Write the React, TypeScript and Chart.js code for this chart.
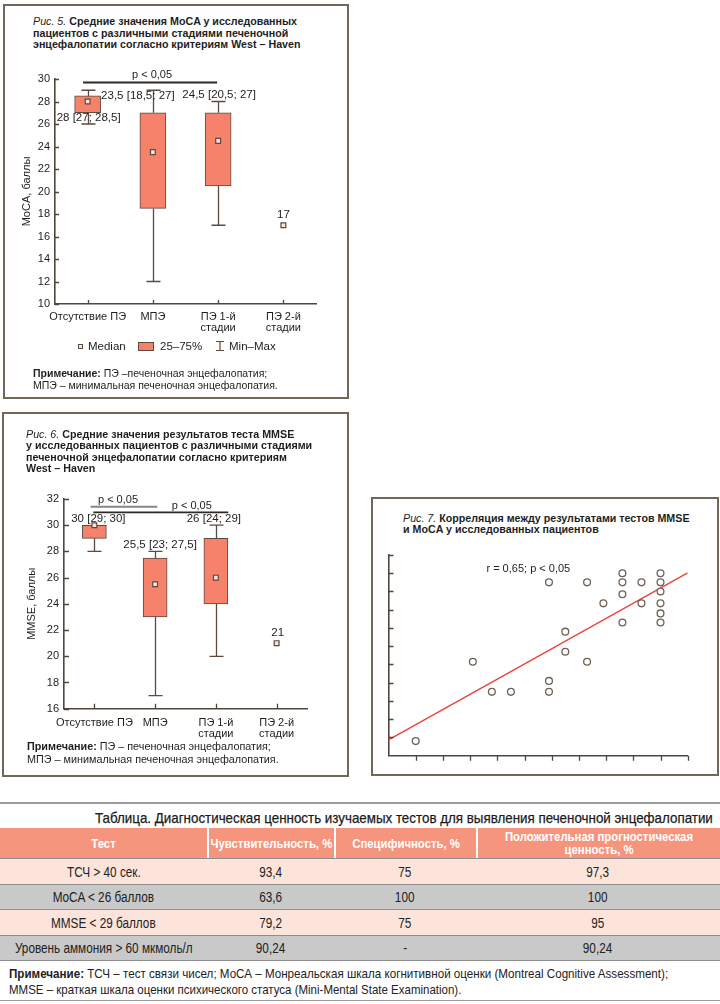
import React, { useEffect, useLayoutEffect, useRef } from 'react';
import { Chart, registerables } from 'chart.js';
Chart.register(...registerables);

const SANS = "'Liberation Sans', Arial, Helvetica, sans-serif";

const BOX_FILL = '#f7826b';
const BOX_EDGE = '#5a4a40';
const MED_FILL = '#fde2d9';
const AXIS = '#4f463e';
const FRAME = '#716757';
const TEXT = '#1e1e1e';

// ---------- shared categories ----------
const stageLabels = [['Отсутствие ПЭ'], ['МПЭ'], ['ПЭ 1-й', 'стадии'], ['ПЭ 2-й', 'стадии']];

// ---------- Fig. 5: MoCA ----------
const mocaMin = [26, 12, 17, null];
const mocaQ1 = [27, 18.5, 20.5, null];
const mocaMedian = [28, 23.5, 24.5, 17];
const mocaQ3 = [28.5, 27, 27, null];
const mocaMax = [29, 29, 28, null];
const mocaValueLabels = ['28 [27; 28,5]', '23,5 [18,5; 27]', '24,5 [20,5; 27]', '17'];
const mocaAxis = [10, 30, 2];

// ---------- Fig. 6: MMSE ----------
const mmseMin = [28, 17, 20, null];
const mmseQ1 = [29, 23, 24, null];
const mmseMedian = [30, 25.5, 26, 21];
const mmseQ3 = [30, 27.5, 29, null];
const mmseMax = [30, 28, 30, null];
const mmseValueLabels = ['30 [29; 30]', '25,5 [23; 27,5]', '26 [24; 29]', '21'];
const mmseAxis = [16, 32, 2];

// ---------- Fig. 7: correlation (axis units, unlabeled) ----------
const corrX = [1.0, 3.1, 3.8, 4.5, 5.9, 5.9, 5.9, 6.5, 6.5, 7.3, 7.3, 7.9, 8.6, 8.6, 8.6, 8.6, 9.3, 9.3, 10, 10, 10, 10, 10, 10];
const corrY = [0.8, 5.15, 3.5, 3.5, 3.5, 4.1, 9.5, 5.7, 6.8, 5.15, 9.5, 8.35, 10, 9.5, 8.85, 7.3, 9.5, 8.35, 10, 9.5, 9.0, 8.35, 7.8, 7.3];
const regX = [0, 11];
const regY = [0.87, 10.02];
const corrText = 'r = 0,65; p < 0,05';

// ---------- Table ----------
const tableTitle = 'Таблица. Диагностическая ценность изучаемых тестов для выявления печеночной энцефалопатии';
const tableHead = ['Тест', 'Чувствительность, %', 'Специфичность, %', 'Положительная прогностическая|ценность, %'];
const tableTests = ['ТСЧ > 40 сек.', 'MoCA < 26 баллов', 'MMSE < 29 баллов', 'Уровень аммония > 60 мкмоль/л'];
const tableSens = ['93,4', '63,6', '79,2', '90,24'];
const tableSpec = ['75', '100', '75', '-'];
const tablePpv = ['97,3', '100', '95', '90,24'];

type Sig = { from: number; to: number; dxFrom: number; dxTo: number; y: number; text: string; textDx: number; textDy: number; color: string; width: number };

function boxExtras(spec: any) {
  return {
    id: 'boxExtras',
    beforeDatasetsDraw(chart: any) {
      const { ctx, scales: { x, y } } = chart;
      ctx.save();
      ctx.strokeStyle = BOX_EDGE;
      ctx.lineWidth = 1.3;
      spec.min.forEach((mn: number | null, i: number) => {
        const mx = spec.max[i];
        if (mn == null || mx == null) return;
        const px = Math.round(x.getPixelForValue(i)) + 0.5;
        const yMin = y.getPixelForValue(mn);
        const yQ1 = y.getPixelForValue(spec.q1[i]);
        const yQ3 = y.getPixelForValue(spec.q3[i]);
        const yMax = y.getPixelForValue(mx);
        ctx.beginPath();
        ctx.moveTo(px, yMin); ctx.lineTo(px, yQ1);
        if (mx > spec.q3[i]) {
          ctx.moveTo(px, yQ3); ctx.lineTo(px, yMax);
          ctx.moveTo(px - spec.capW / 2, yMax); ctx.lineTo(px + spec.capW / 2, yMax);
        }
        if (mn < spec.q1[i]) {
          ctx.moveTo(px - spec.capW / 2, yMin); ctx.lineTo(px + spec.capW / 2, yMin);
        }
        ctx.stroke();
      });
      ctx.restore();
    },
    afterDraw(chart: any) {
      const { ctx, chartArea: a, scales: { x, y } } = chart;
      ctx.save();
      ctx.strokeStyle = AXIS;
      ctx.lineWidth = 1.3;
      ctx.beginPath();
      x.ticks.forEach((_: any, i: number) => {
        const px = Math.round(x.getPixelForTick(i)) + 0.5;
        ctx.moveTo(px, a.bottom); ctx.lineTo(px, a.bottom - spec.tickLen);
      });
      y.ticks.forEach((_: any, i: number) => {
        const py = Math.round(y.getPixelForTick(i)) + 0.5;
        ctx.moveTo(a.left, py); ctx.lineTo(a.left + spec.tickLen, py);
      });
      ctx.stroke();
      ctx.fillStyle = TEXT;
      ctx.font = `11.5px ${SANS}`;
      ctx.textAlign = 'center';
      ctx.textBaseline = 'middle';
      spec.labels.forEach((t: string, i: number) => {
        const p = spec.labelPos[i];
        ctx.fillText(t, x.getPixelForValue(i) + p.dx, y.getPixelForValue(p.y));
      });
      ctx.font = `11px ${SANS}`;
      spec.sig.forEach((s: Sig) => {
        const x1 = x.getPixelForValue(s.from) + s.dxFrom;
        const x2 = x.getPixelForValue(s.to) + s.dxTo;
        const py = y.getPixelForValue(s.y);
        ctx.strokeStyle = s.color;
        ctx.lineWidth = s.width;
        ctx.beginPath();
        ctx.moveTo(x1, py); ctx.lineTo(x2, py);
        ctx.stroke();
        ctx.fillStyle = TEXT;
        ctx.fillText(s.text, (x1 + x2) / 2 + s.textDx, py + s.textDy);
      });
      ctx.restore();
    },
  };
}

function makeBoxChart(canvas: HTMLCanvasElement, d: any) {
  return new Chart(canvas, {
    type: 'bar',
    data: {
      labels: stageLabels as any,
      datasets: [
        {
          type: 'line',
          data: d.median,
          showLine: false,
          pointStyle: 'rect',
          pointRadius: 3.4,
          pointBackgroundColor: MED_FILL,
          pointBorderColor: BOX_EDGE,
          pointBorderWidth: 1.2,
          order: 0,
        } as any,
        {
          type: 'bar',
          data: d.q1.map((v: number | null, i: number) => (v == null ? null : [v, d.q3[i]])),
          backgroundColor: BOX_FILL,
          borderColor: BOX_EDGE,
          borderWidth: 1,
          borderSkipped: false,
          barThickness: d.barW,
          order: 1,
        } as any,
      ],
    },
    options: {
      animation: false,
      responsive: false,
      maintainAspectRatio: false,
      events: [],
      layout: { padding: { left: 0, top: d.padTop, right: d.padRight, bottom: 0 } },
      plugins: { legend: { display: false }, tooltip: { enabled: false } },
      scales: {
        x: {
          type: 'category',
          offset: true,
          grid: { display: false, drawTicks: false },
          border: { display: true, color: AXIS, width: 1.6 },
          ticks: { font: { family: SANS, size: 11, lineHeight: 0.95 }, color: TEXT, padding: d.xPad, maxRotation: 0, autoSkip: false },
          afterFit: (s: any) => { s.height = d.xH; },
        },
        y: {
          type: 'linear',
          min: d.axis[0],
          max: d.axis[1],
          grid: { display: false, drawTicks: false },
          border: { display: true, color: AXIS, width: 1.6 },
          ticks: { stepSize: d.axis[2], font: { family: SANS, size: 11 }, color: TEXT, padding: 5 },
          title: { display: true, text: d.yTitle, font: { family: SANS, size: 11 }, color: TEXT, padding: { top: d.titlePad, bottom: 0 } },
          afterFit: (s: any) => { s.width = d.yW; },
        },
      },
    } as any,
    plugins: [boxExtras(d) as any],
  });
}

function BoxCanvas({ d, left, top, w, h }: any) {
  const ref = useRef<HTMLCanvasElement>(null);
  useEffect(() => {
    const c = makeBoxChart(ref.current!, d);
    return () => c.destroy();
  }, []);
  return <canvas ref={ref} width={w} height={h} style={{ position: 'absolute', left, top, width: w, height: h }} />;
}

const corrPlugin = {
  id: 'corrExtras',
  afterDraw(chart: any) {
    const { ctx, chartArea: a, scales: { x, y } } = chart;
    ctx.save();
    ctx.strokeStyle = AXIS;
    ctx.lineWidth = 1.3;
    ctx.beginPath();
    x.ticks.forEach((_: any, i: number) => {
      if (i === 0) return;
      const px = Math.round(x.getPixelForTick(i)) + 0.5;
      ctx.moveTo(px, a.bottom); ctx.lineTo(px, a.bottom + 5);
    });
    y.ticks.forEach((_: any, i: number) => {
      if (i === 0) return;
      const py = Math.round(y.getPixelForTick(i)) + 0.5;
      ctx.moveTo(a.left, py); ctx.lineTo(a.left + 5, py);
    });
    ctx.stroke();
    ctx.fillStyle = TEXT;
    ctx.font = `11px ${SANS}`;
    ctx.textAlign = 'left';
    ctx.textBaseline = 'middle';
    ctx.fillText(corrText, x.getPixelForValue(3.6), y.getPixelForValue(10.23));
    ctx.restore();
  },
};

function CorrCanvas({ left, top, w, h }: any) {
  const ref = useRef<HTMLCanvasElement>(null);
  useEffect(() => {
    const c = new Chart(ref.current!, {
      type: 'scatter',
      data: {
        datasets: [
          {
            type: 'scatter',
            data: corrX.map((v, i) => ({ x: v, y: corrY[i] })),
            pointRadius: 3.4,
            pointBackgroundColor: '#ffffff',
            pointBorderColor: '#6d6258',
            pointBorderWidth: 1.3,
            order: 0,
          } as any,
          {
            type: 'line',
            data: regX.map((v, i) => ({ x: v, y: regY[i] })),
            borderColor: '#e8453c',
            borderWidth: 1.5,
            pointRadius: 0,
            fill: false,
            order: 1,
          } as any,
        ],
      },
      options: {
        animation: false,
        responsive: false,
        maintainAspectRatio: false,
        events: [],
        layout: { padding: { left: 0, top: 10, right: 18.3, bottom: 0 } },
        plugins: { legend: { display: false }, tooltip: { enabled: false } },
        scales: {
          x: {
            type: 'linear', min: 0, max: 11,
            grid: { display: false, drawTicks: false },
            border: { display: true, color: AXIS, width: 1.6 },
            ticks: { display: false, stepSize: 1 },
            afterFit: (s: any) => { s.height = 14.3; },
          },
          y: {
            type: 'linear', min: 0, max: 11,
            grid: { display: false, drawTicks: false },
            border: { display: true, color: AXIS, width: 1.6 },
            ticks: { display: false, stepSize: 1 },
            afterFit: (s: any) => { s.width = 12.5; },
          },
        },
      } as any,
      plugins: [corrPlugin as any],
    });
    return () => c.destroy();
  }, []);
  return <canvas ref={ref} width={w} height={h} style={{ position: 'absolute', left, top, width: w, height: h }} />;
}

// Horizontally squeezes a line of text to a given width (emulates a condensed face)
function Fit({ w, origin, children, style }: any) {
  const ref = useRef<HTMLSpanElement>(null);
  useLayoutEffect(() => {
    const el = ref.current!;
    el.style.transform = 'none';
    const nat = el.offsetWidth;
    if (nat > 0) el.style.transform = `scaleX(${w / nat})`;
  }, []);
  return (
    <span ref={ref} style={{ display: 'inline-block', whiteSpace: 'nowrap', transformOrigin: origin || 'left center', ...style }}>
      {children}
    </span>
  );
}

const fig5 = {
  min: mocaMin, q1: mocaQ1, median: mocaMedian, q3: mocaQ3, max: mocaMax, axis: mocaAxis,
  labels: mocaValueLabels,
  labelPos: [{ dx: 1, y: 26.55 }, { dx: -15, y: 28.52 }, { dx: 1, y: 28.58 }, { dx: 0, y: 17.9 }],
  sig: [{ from: 0, to: 2, dxFrom: -4.6, dxTo: -1, y: 29.7, text: 'p < 0,05', textDx: 2, textDy: -7.3, color: '#2f2a26', width: 2 }],
  capW: 14, tickLen: 4, barW: 26,
  yTitle: 'MoCA, баллы', titlePad: 10.4, yW: 45, padTop: 19, padRight: 14, xH: 36, xPad: 8,
};

const fig6 = {
  min: mmseMin, q1: mmseQ1, median: mmseMedian, q3: mmseQ3, max: mmseMax, axis: mmseAxis,
  labels: mmseValueLabels,
  labelPos: [{ dx: 4, y: 30.5 }, { dx: 5, y: 28.49 }, { dx: -2, y: 30.5 }, { dx: 1, y: 21.77 }],
  sig: [
    { from: 0, to: 1, dxFrom: -3.7, dxTo: 2.2, y: 31.41, text: 'p < 0,05', textDx: -6, textDy: -6.7, color: '#8a8580', width: 2 },
    { from: 0, to: 2, dxFrom: -1.1, dxTo: 12.4, y: 30.98, text: 'p < 0,05', textDx: 31, textDy: -6.3, color: '#2f2a26', width: 1.6 },
  ],
  capW: 14, tickLen: 5, barW: 24,
  yTitle: 'MMSE, баллы', titlePad: 15.1, yW: 54, padTop: 19, padRight: 23, xH: 36.3, xPad: 9.4,
};

const abs = (s: any) => ({ position: 'absolute' as const, whiteSpace: 'nowrap' as const, ...s });

export default function App() {
  useEffect(() => {
    document.body.style.margin = '0';
  }, []);

  const colX = [0, 207, 334, 476, 720];
  const rowTop = [858, 883.7, 909.3, 934.5];
  const rowH = 25.5;
  const rowBg = ['#fde4db', '#c9c9c9', '#fde4db', '#c9c9c9'];
  const rowVals = tableTests.map((t, i) => [t, tableSens[i], tableSpec[i], tablePpv[i]]);

  return (
    <div style={{ position: 'relative', width: 720, height: 1004, background: '#fff', fontFamily: SANS, color: TEXT, overflow: 'hidden' }}>
      {/* Fig 5 */}
      <div style={abs({ left: 3, top: 4, width: 346, height: 395, border: `2px solid ${FRAME}`, boxSizing: 'border-box' })} />
      <div style={abs({ left: 33, top: 16, font: `bold 10.7px/11.5px ${SANS}` })}>
        <span style={{ fontWeight: 'normal', fontStyle: 'italic' }}>Рис. 5.</span> Средние значения MoCA у исследованных<br />
        пациентов с различными стадиями печеночной<br />
        энцефалопатии согласно критериям West – Haven
      </div>
      <BoxCanvas d={fig5} left={10} top={60} w={320} h={280} />
      {/* legend */}
      <div style={abs({ left: 78, top: 343.5, width: 3, height: 3, border: `1px solid ${BOX_EDGE}`, background: MED_FILL })} />
      <div style={abs({ left: 88, top: 339, font: `11.5px/14px ${SANS}` })}>Median</div>
      <div style={abs({ left: 138, top: 342, width: 14, height: 7, border: `1px solid ${BOX_EDGE}`, background: BOX_FILL })} />
      <div style={abs({ left: 160, top: 339, font: `11.5px/14px ${SANS}` })}>25–75%</div>
      <svg style={abs({ left: 215, top: 340 })} width={10} height={12}>
        <path d="M1 1.5H9M5 1.5V10.5M1 10.5H9" stroke={BOX_EDGE} strokeWidth={1.2} fill="none" />
      </svg>
      <div style={abs({ left: 229, top: 339, font: `11.5px/14px ${SANS}` })}>Min–Max</div>
      <div style={abs({ left: 33, top: 367, font: `10.5px/12px ${SANS}` })}>
        <b>Примечание:</b> ПЭ –печеночная энцефалопатия;<br />
        МПЭ – минимальная печеночная энцефалопатия.
      </div>

      {/* Fig 6 */}
      <div style={abs({ left: 2, top: 412, width: 347, height: 365, border: `2px solid ${FRAME}`, boxSizing: 'border-box' })} />
      <div style={abs({ left: 26, top: 428.5, font: `bold 10.7px/11.5px ${SANS}` })}>
        <span style={{ fontWeight: 'normal', fontStyle: 'italic' }}>Рис. 6.</span> Средние значения результатов теста MMSE<br />
        у исследованных пациентов с различными стадиями<br />
        печеночной энцефалопатии согласно критериям<br />
        West – Haven
      </div>
      <BoxCanvas d={fig6} left={10} top={480} w={320} h={265} />
      <div style={abs({ left: 27, top: 740, font: `10.8px/13.3px ${SANS}` })}>
        <b>Примечание:</b> ПЭ – печеночная энцефалопатия;<br />
        МПЭ – минимальная печеночная энцефалопатия.
      </div>

      {/* Fig 7 */}
      <div style={abs({ left: 371, top: 497, width: 348, height: 279, border: `2px solid ${FRAME}`, boxSizing: 'border-box' })} />
      <div style={abs({ left: 403, top: 512.5, font: `bold 10.7px/11.5px ${SANS}` })}>
        <span style={{ fontWeight: 'normal', fontStyle: 'italic' }}>Рис. 7.</span> Корреляция между результатами тестов MMSE<br />
        и MoCA у исследованных пациентов
      </div>
      <CorrCanvas left={376} top={545} w={330} h={225} />

      {/* Table */}
      <div style={abs({ left: 0, top: 802, width: 720, height: 1.5, background: '#9c9c9c' })} />
      <div style={abs({ left: 0, top: 809, width: 713, textAlign: 'right', font: `15px/18px ${SANS}`, color: '#1a1a1a' })}>
        <Fit w={618} origin="right center" style={{ WebkitTextStroke: '0.25px #1a1a1a' }}>{tableTitle}</Fit>
      </div>
      <div style={abs({ left: 0, top: 828, width: 720, height: 30.5, background: '#f6957d' })} />
      {tableHead.map((h, c) => (
        <div key={'h' + c} style={abs({ left: colX[c], top: 828, width: colX[c + 1] - colX[c], height: 30.5, display: 'flex', flexDirection: 'column', justifyContent: 'center', alignItems: 'center', font: `bold 13.5px/13.3px ${SANS}`, color: '#fff', borderLeft: c > 0 ? '2px solid #fff' : 'none', boxSizing: 'border-box' })}>
          {h.split('|').map((ln, k) => <div key={k} style={{ transform: 'scaleX(0.84)' }}>{ln}</div>)}
        </div>
      ))}
      {rowVals.map((r, i) => (
        <div key={'r' + i} style={abs({ left: 0, top: rowTop[i], width: 720, height: rowH + 1, background: rowBg[i], borderTop: '1.5px solid #8e8e8e', boxSizing: 'border-box' })}>
          {r.map((v, c) => (
            <div key={c} style={abs({ left: colX[c], top: 0, width: colX[c + 1] - colX[c], height: rowH, display: 'flex', alignItems: 'center', justifyContent: 'center', font: `14px/16px ${SANS}`, color: '#222' })}>
              <span style={{ display: 'inline-block', transform: 'scaleX(0.84)' }}>{v}</span>
            </div>
          ))}
        </div>
      ))}
      <div style={abs({ left: 0, top: 959.5, width: 720, height: 1.5, background: '#8e8e8e' })} />
      <div style={abs({ left: 9, top: 965.5, font: `13.5px/16px ${SANS}`, color: '#222' })}>
        <Fit w={659}><b>Примечание:</b> ТСЧ – тест связи чисел; МоСА – Монреальская шкала когнитивной оценки (Montreal Cognitive Assessment);</Fit>
        <br />
        <Fit w={452}>MMSE – краткая шкала оценки психического статуса (Mini-Mental State Examination).</Fit>
      </div>
      <div style={abs({ left: 0, top: 999.5, width: 720, height: 1.5, background: '#9c9c9c' })} />
    </div>
  );
}
